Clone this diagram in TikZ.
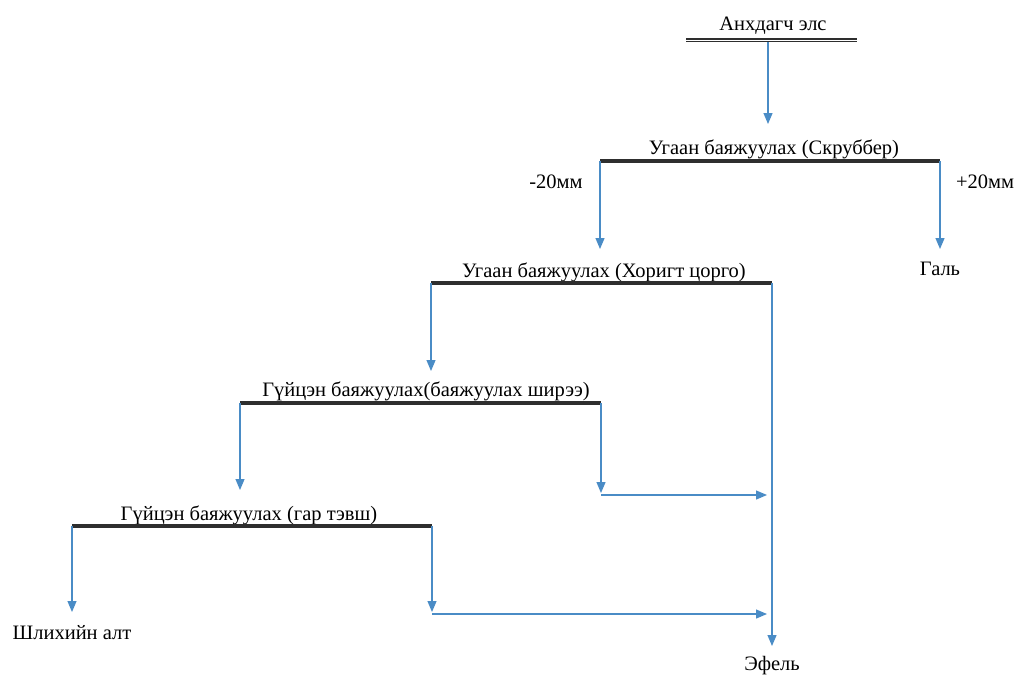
\documentclass[tikz,border=0pt]{standalone}
\usepackage{fontspec}
\setmainfont{Liberation Serif}
\usetikzlibrary{arrows.meta}
\definecolor{flowblue}{HTML}{4A8CC6}
\definecolor{bargray}{HTML}{2E2E2E}

\begin{document}
\begin{tikzpicture}[x=1pt, y=-1pt,
    lbl/.style={font=\fontsize{20.5}{22}\selectfont, inner sep=1pt, anchor=base},
    bar/.style={bargray, line width=3.2pt},
    flow/.style={flowblue, line width=1.2pt, -{Triangle[length=11pt, width=9pt]}},
    flowline/.style={flowblue, line width=1.2pt}]
  \useasboundingbox (0,0) rectangle (1017,675);
  % feed
  \node[lbl] (feed) at (773,30) {Анхдагч элс};
  \coordinate (b0l) at (686,40); \coordinate (b0r) at (857,40); \coordinate (b0m) at (768,42);
  \draw[bargray, double, double distance=1pt, line width=1.6pt] (b0l) -- (b0r);
  \coordinate (t0) at (768,124);
  \draw[flow] (b0m) -- (t0);
  % scrubber
  \node[lbl] (scrub) at (774,154) {Угаан баяжуулах (Скруббер)};
  \coordinate (b1l) at (600,161); \coordinate (b1r) at (940,161);
  \draw[bar] (b1l) -- (b1r);
  \node[lbl] (minus) at (556,188) {-20мм};
  \node[lbl] (plus) at (985,188) {+20мм};
  \node[lbl] (gal) at (940,275) {Галь};
  \coordinate (t1l) at (600,249); \coordinate (t1r) at (940,249);
  \draw[flow] (b1l) -- (t1l);
  \draw[flow] (b1r) -- (t1r);
  % nozzle
  \node[lbl] (nozzle) at (604,277) {Угаан баяжуулах (Хоригт цорго)};
  \coordinate (b2l) at (431,283); \coordinate (b2r) at (772,283);
  \draw[bar] (b2l) -- (b2r);
  \node[lbl] (tail) at (772,670) {Эфель};
  \coordinate (t2l) at (431,371); \coordinate (t2r) at (772,646);
  \draw[flow] (b2l) -- (t2l);
  \draw[flow] (b2r) -- (t2r);
  % table
  \node[lbl] (table) at (426,396) {Гүйцэн баяжуулах(баяжуулах ширээ)};
  \coordinate (b3l) at (240,403); \coordinate (b3r) at (601,403);
  \draw[bar] (b3l) -- (b3r);
  \coordinate (t3l) at (240,490); \coordinate (t3r) at (601,493);
  \coordinate (j3) at (601,495); \coordinate (e3) at (767,495);
  \draw[flow] (b3l) -- (t3l);
  \draw[flow] (b3r) -- (t3r);
  \draw[flow] (j3) -- (e3);
  % pan
  \node[lbl] (pan) at (249,520) {Гүйцэн баяжуулах (гар тэвш)};
  \coordinate (b4l) at (72,526); \coordinate (b4r) at (432,526);
  \draw[bar] (b4l) -- (b4r);
  \node[lbl] (gold) at (72,639) {Шлихийн алт};
  \coordinate (t4l) at (72,612); \coordinate (t4r) at (432,612);
  \coordinate (j4) at (432,614); \coordinate (e4) at (767,614);
  \draw[flow] (b4l) -- (t4l);
  \draw[flow] (b4r) -- (t4r);
  \draw[flow] (j4) -- (e4);
\end{tikzpicture}
\end{document}
